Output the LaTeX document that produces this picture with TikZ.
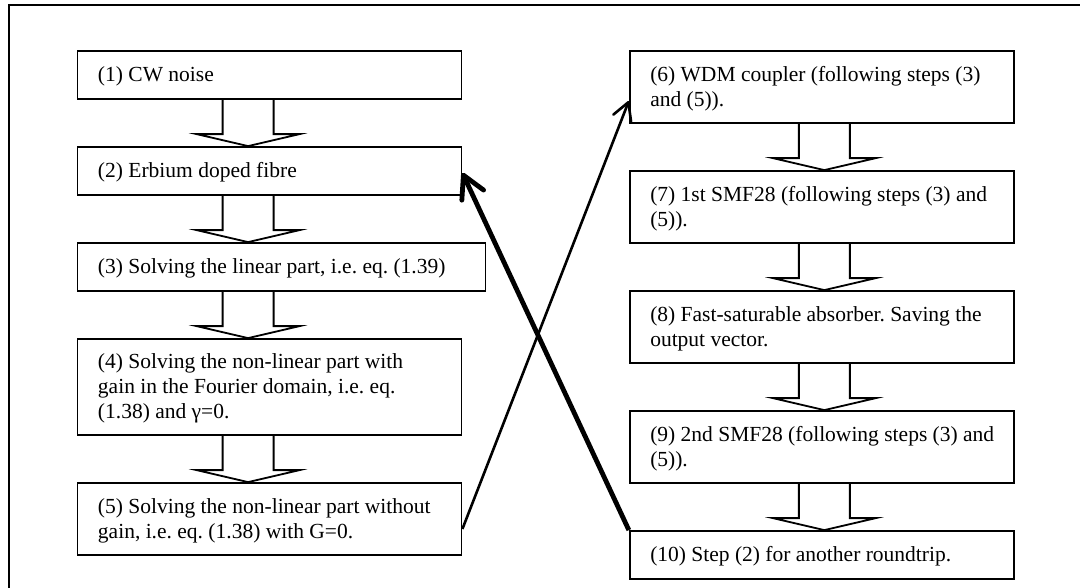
\documentclass[tikz,border=0pt]{standalone}
\usepackage{fontspec}
\setmainfont{Liberation Serif}
\usetikzlibrary{calc,arrows.meta}
\newcommand{\tstr}{\rule{0pt}{19pt}}
\newcommand{\bstr}{\rule[-6pt]{0pt}{6pt}}
\newcommand{\boxtext}[2]{\begin{minipage}{#1}\leftskip=20.5pt\rightskip=0pt plus 1fil\parindent=0pt\frenchspacing\fontsize{21.5pt}{25pt}\selectfont\tstr #2\bstr\end{minipage}}
\newcommand{\blockarr}[3]{%
  \draw[barr] let \p1=($(#1.south west)+(#3,0)$), \p2=(#2.north) in
    (\x1-25.5pt,\y1) -- (\x1-25.5pt,\y2+12pt) -- (\x1-51.5pt,\y2+12pt) -- (\x1,\y2)
    -- (\x1+51.5pt,\y2+12pt) -- (\x1+25.5pt,\y2+12pt) -- (\x1+25.5pt,\y1);}
\tikzset{
  stepbox/.style={draw=black, line width=1.8pt, fill=white,
    inner sep=0pt, minimum width=384pt},
  widebox/.style={stepbox, minimum width=408pt},
  barr/.style={draw=black, line width=1.8pt, line join=miter},
  thinarr/.style={draw=black, line width=2.6pt,
    -{Straight Barb[length=17pt,width=19pt,round]}},
  thickarr/.style={draw=black, line width=4.8pt,
    -{Straight Barb[length=22pt,width=24pt,round]}},
  frame/.style={draw=black, line width=1.8pt}
}
\begin{document}
\begin{tikzpicture}[x=1pt,y=-1pt]
\useasboundingbox (0,0) rectangle (1080,587);
\coordinate (fa) at (9.3,590);
\coordinate (fb) at (9.3,5);
\coordinate (fc) at (1083,5);
\draw[frame] (fa) -- (fb) -- (fc);

\node[stepbox, minimum height=48pt] (b1) at (269.5,75) {\boxtext{384pt}{(1) CW noise}};
\node[stepbox, minimum height=48pt] (b2) at (269.5,171) {\boxtext{384pt}{(2) Erbium doped fibre}};
\node[widebox, minimum height=48pt] (b3) at (281.5,267) {\boxtext{408pt}{(3) Solving the linear part, i.e. eq. (1.39)}};
\node[stepbox, minimum height=96pt] (b4) at (269.5,387) {\boxtext{384pt}{\mbox{(4) Solving the non-linear part with}\\\mbox{gain in the Fourier domain, i.e. eq.}\\\mbox{(1.38) and γ=0.}}};
\node[stepbox, minimum height=72pt] (b5) at (269.5,519) {\boxtext{384pt}{\mbox{(5) Solving the non-linear part without}\\\mbox{gain, i.e. eq. (1.38) with G=0.}}};

\node[stepbox, minimum height=72pt] (b6) at (821.75,87) {\boxtext{384pt}{\mbox{(6) WDM coupler (following steps (3)}\\\mbox{and (5)).}}};
\node[stepbox, minimum height=72pt] (b7) at (821.75,207) {\boxtext{384pt}{\mbox{(7) 1st SMF28 (following steps (3) and}\\\mbox{(5)).}}};
\node[stepbox, minimum height=72pt] (b8) at (821.75,327) {\boxtext{384pt}{\mbox{(8) Fast-saturable absorber. Saving the}\\\mbox{output vector.}}};
\node[stepbox, minimum height=72pt] (b9) at (821.75,447) {\boxtext{384pt}{\mbox{(9) 2nd SMF28 (following steps (3) and}\\\mbox{(5)).}}};
\node[stepbox, minimum height=48pt] (b10) at (821.75,555) {\boxtext{384pt}{(10) Step (2) for another roundtrip.}};

\blockarr{b1}{b2}{171.5}
\blockarr{b2}{b3}{171.5}
\blockarr{b3}{b4}{171.5}
\blockarr{b4}{b5}{171.5}
\blockarr{b6}{b7}{195.5}
\blockarr{b7}{b8}{195.5}
\blockarr{b8}{b9}{195.5}
\blockarr{b9}{b10}{195.5}

\draw[thinarr] ($(b5.east)+(0,10)$) -- ($(b6.west)+(0,14)$);
\draw[thickarr] (b10.north west) -- ($(b2.east)+(0,2)$);
\end{tikzpicture}
\end{document}
